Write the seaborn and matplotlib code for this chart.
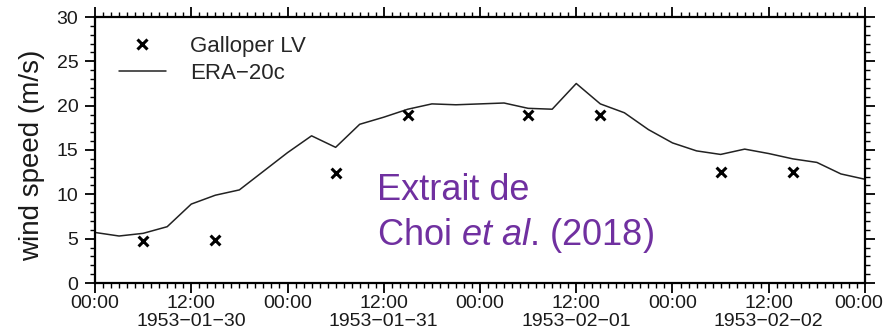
import matplotlib
matplotlib.use("Agg")
import matplotlib.pyplot as plt
import matplotlib.transforms as mtransforms
import seaborn as sns
import pandas as pd
from matplotlib.ticker import FixedLocator, MultipleLocator
from matplotlib.lines import Line2D

# ---- data ----
era_hours = [0, 3, 6, 9, 12, 15, 18, 21, 24, 27, 30, 33, 36, 39, 42, 45, 48,
             51, 54, 57, 60, 63, 66, 69, 72, 75, 78, 81, 84, 87, 90, 93, 96]
era_speed = [5.7, 5.3, 5.6, 6.35, 8.9, 9.9, 10.5, 12.6, 14.7, 16.6, 15.3, 17.9,
             18.7, 19.6, 20.2, 20.1, 20.2, 20.3, 19.7, 19.6, 22.5, 20.2, 19.2,
             17.3, 15.8, 14.9, 14.5, 15.1, 14.6, 14.0, 13.6, 12.3, 11.7]
obs_hours = [6, 15, 30, 39, 54, 63, 78, 87]
obs_speed = [4.7, 4.8, 12.4, 19.0, 19.0, 19.0, 12.5, 12.5]

tick_hours = [0, 12, 24, 36, 48, 60, 72, 84, 96]
tick_labels = ["00:00", "12:00\n1953\u221201\u221230", "00:00",
               "12:00\n1953\u221201\u221231", "00:00",
               "12:00\n1953\u221202\u221201", "00:00",
               "12:00\n1953\u221202\u221202", "00:00"]
legend_labels = ["Galloper LV", "ERA\u221220c"]

sns.set_style("ticks")
plt.rcParams["font.family"] = ["Liberation Sans", "DejaVu Sans"]
plt.rcParams["mathtext.fontset"] = "custom"
plt.rcParams["mathtext.rm"] = "Liberation Sans"
plt.rcParams["mathtext.it"] = "Liberation Sans:italic"

era_df = pd.DataFrame({"hour": era_hours, "speed": era_speed})
obs_df = pd.DataFrame({"hour": obs_hours, "speed": obs_speed})

fig = plt.figure(figsize=(8.85, 3.34), dpi=100)
ax = fig.add_axes([95 / 885, 1 - 283 / 334, 770 / 885, 266 / 334])

sns.lineplot(data=era_df, x="hour", y="speed", ax=ax, color="#222222",
             linewidth=1.1)
sns.scatterplot(data=obs_df, x="hour", y="speed", ax=ax, marker="x",
                color="black", s=50, linewidth=2.2, zorder=3)

ax.set_xlim(0, 96)
ax.set_ylim(0, 30)
ax.xaxis.set_major_locator(FixedLocator(tick_hours))
ax.set_xticklabels(tick_labels)
ax.xaxis.set_minor_locator(MultipleLocator(1))
ax.yaxis.set_major_locator(MultipleLocator(5))
ax.yaxis.set_minor_locator(MultipleLocator(1))

for sp in ax.spines.values():
    sp.set_visible(True)
    sp.set_linewidth(1.6)
    sp.set_color("black")

ax.tick_params(which="both", direction="out", top=True, right=True,
               colors="black", labelcolor="#1a1a1a")
ax.tick_params(which="major", length=7, width=1.3, labelsize=14, pad=2)
ax.tick_params(which="minor", length=3.5, width=1.0)
ax.tick_params(axis="y", which="major", pad=5)
xlabels = ax.get_xticklabels()
for lbl in xlabels:
    lbl.set_linespacing(1.05)
# nudge the last label so it stays inside the canvas
shift = mtransforms.ScaledTranslation(-6 / 100, 0, fig.dpi_scale_trans)
xlabels[-1].set_transform(xlabels[-1].get_transform() + shift)

ax.set_xlabel("")
ax.set_ylabel("wind speed (m/s)", fontsize=20, color="#1a1a1a")
ax.yaxis.set_label_coords(-0.065, 0.48)

handles = [Line2D([], [], marker="x", linestyle="none", color="black",
                  markersize=7, markeredgewidth=2.2),
           Line2D([], [], color="#222222", linewidth=1.1)]
ax.legend(handles, legend_labels, loc="upper left",
          bbox_to_anchor=(0.031, 0.93), frameon=False, fontsize=16,
          borderpad=0, borderaxespad=0, handlelength=2.1,
          handletextpad=1.1, labelspacing=0.28)

purple = "#7030A0"
fig.text(377 / 885, 1 - 200 / 334, "Extrait de", color=purple, fontsize=26,
         va="baseline", ha="left")
fig.text(377 / 885, 1 - 245 / 334, r"Choi $\it{et\ al}$. (2018)",
         color=purple, fontsize=26, va="baseline", ha="left")

fig.savefig("out.png", dpi=100)
